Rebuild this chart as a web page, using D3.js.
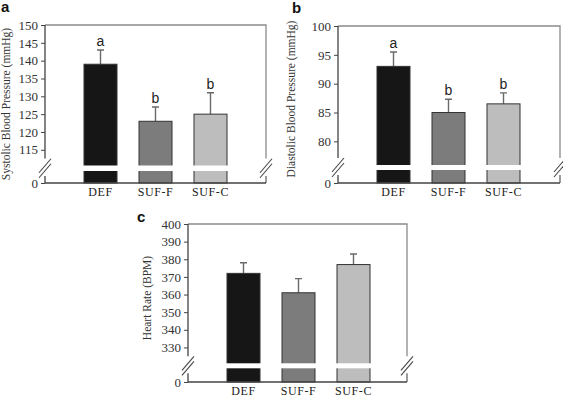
<!DOCTYPE html>
<html>
<head>
<meta charset="utf-8">
<script src="https://cdn.jsdelivr.net/npm/d3@7"></script>
<style>
  body { margin: 0; background: #fff; }
  svg { display: block; }
</style>
</head>
<body>
<div id="chart"></div>
<script>
// data
var categories = ["DEF", "SUF-F", "SUF-C"];

var sbpMeans = [139, 123, 125];
var sbpErrors = [4, 4, 6];
var sbpLetters = ["a", "b", "b"];
var sbpTicks = [0, 115, 120, 125, 130, 135, 140, 145, 150];

var dbpMeans = [93, 85, 86.5];
var dbpErrors = [2.5, 2.3, 1.9];
var dbpLetters = ["a", "b", "b"];
var dbpTicks = [0, 80, 85, 90, 95, 100];

var hrMeans = [372, 361, 377];
var hrErrors = [6, 8, 6];
var hrLetters = [null, null, null];
var hrTicks = [0, 330, 340, 350, 360, 370, 380, 390, 400];

var barColors = ["#161616", "#7c7c7c", "#bdbdbd"];

var svg = d3.select("#chart")
    .append("svg")
    .attr("width", 563)
    .attr("height", 397);

// one panel of the broken-axis bar chart
function drawPanel(opt) {
    var g = svg.append("g");
    var left = opt.left, right = opt.right, top = opt.top, bottom = opt.bottom;

    // piecewise scale: 0 sits below the break, the rest above it
    var y = d3.scaleLinear()
        .domain([0, opt.breakLow, opt.breakHigh, opt.max])
        .range([bottom, opt.gapBottom, opt.gapTop, top]);

    var x = d3.scalePoint()
        .domain(categories)
        .range([left + 55.5, left + 165.5]);
    var barW = 33;

    var rows = categories.map(function (c, i) {
        return { cat: c, mean: opt.means[i], err: opt.errors[i], letter: opt.letters[i], color: barColors[i] };
    });

    // frame (top and right)
    g.append("path")
        .attr("d", "M" + left + "," + top + "H" + right + "V" + (opt.gapTop - 7))
        .attr("fill", "none").attr("stroke", "#8a8a8a").attr("stroke-width", 1.3);
    g.append("path")
        .attr("d", "M" + right + "," + (opt.gapBottom + 5) + "V" + bottom)
        .attr("fill", "none").attr("stroke", "#666").attr("stroke-width", 1.3);

    // error bars (upper only)
    g.selectAll(".err")
        .data(rows)
        .enter()
        .append("path")
        .attr("d", function (d) {
            var cx = x(d.cat);
            return "M" + cx + "," + y(d.mean) + "V" + y(d.mean + d.err) +
                "M" + (cx - 3.5) + "," + y(d.mean + d.err) + "H" + (cx + 3.5);
        })
        .attr("stroke", "#6a6a6a")
        .attr("stroke-width", 1.4)
        .attr("fill", "none");

    // bars
    g.selectAll(".bar")
        .data(rows)
        .enter()
        .append("rect")
        .attr("x", function (d) { return x(d.cat) - barW / 2; })
        .attr("y", function (d) { return y(d.mean); })
        .attr("width", barW)
        .attr("height", function (d) { return y(0) - y(d.mean); })
        .attr("fill", function (d) { return d.color; })
        .attr("stroke", "#333")
        .attr("stroke-width", 1);

    // white stripe where the axis is broken
    g.selectAll(".gap")
        .data(rows)
        .enter()
        .append("rect")
        .attr("x", function (d) { return x(d.cat) - barW / 2 - 1; })
        .attr("y", opt.gapTop)
        .attr("width", barW + 2)
        .attr("height", opt.gapBottom - opt.gapTop)
        .attr("fill", "#fff");

    // significance letters
    g.selectAll(".sig")
        .data(rows.filter(function (d) { return d.letter; }))
        .enter()
        .append("text")
        .attr("x", function (d) { return x(d.cat); })
        .attr("y", function (d) { return y(d.mean + d.err) - 4; })
        .attr("text-anchor", "middle")
        .attr("font-family", "Liberation Sans, Arial, sans-serif")
        .attr("font-size", 14)
        .attr("fill", "#222")
        .text(function (d) { return d.letter; });

    // y axis with the break
    var yAxis = g.append("g")
        .attr("transform", "translate(" + left + ",0)")
        .call(d3.axisLeft(y).tickValues(opt.ticks).tickSize(4).tickPadding(3));
    yAxis.select(".domain").remove();
    yAxis.selectAll("line").attr("stroke", "#444");
    yAxis.selectAll("text")
        .attr("font-family", "Liberation Serif, Times New Roman, serif")
        .attr("font-size", 13)
        .attr("fill", "#333");
    g.append("path")
        .attr("d", "M" + left + "," + top + "V" + (opt.gapTop - 7) +
            "M" + left + "," + (opt.gapBottom + 5) + "V" + bottom + "H" + right)
        .attr("fill", "none").attr("stroke", "#444").attr("stroke-width", 1.3);

    // break marks on both sides
    [left, right].forEach(function (bx) {
        [-2.5, 2.5].forEach(function (off) {
            g.append("line")
                .attr("x1", bx - 6).attr("y1", (opt.gapTop + opt.gapBottom) / 2 + 7 + off)
                .attr("x2", bx + 6).attr("y2", (opt.gapTop + opt.gapBottom) / 2 - 7 + off)
                .attr("stroke", "#444").attr("stroke-width", 1.1);
        });
    });

    // x labels
    g.selectAll(".xlab")
        .data(categories)
        .enter()
        .append("text")
        .attr("x", function (d) { return x(d); })
        .attr("y", bottom + 13)
        .attr("text-anchor", "middle")
        .attr("font-family", "Liberation Serif, Times New Roman, serif")
        .attr("font-size", 12)
        .attr("letter-spacing", 0.6)
        .attr("fill", "#222")
        .text(function (d) { return d; });

    // y title
    g.append("text")
        .attr("transform", "translate(" + opt.titleX + "," + opt.titleY + ")rotate(-90)")
        .attr("text-anchor", "middle")
        .attr("font-family", "Liberation Serif, Times New Roman, serif")
        .attr("font-size", 11.5)
        .attr("fill", "#333")
        .text(opt.title);

    // panel letter
    g.append("text")
        .attr("x", opt.labelX)
        .attr("y", opt.labelY)
        .attr("font-family", "Liberation Sans, Arial, sans-serif")
        .attr("font-weight", "bold")
        .attr("font-size", 15)
        .attr("fill", "#111")
        .text(opt.label);
}

drawPanel({
    left: 45, right: 266, top: 25, bottom: 183,
    gapTop: 165.5, gapBottom: 171, breakHigh: 110.6, breakLow: 3, max: 150,
    means: sbpMeans, errors: sbpErrors, letters: sbpLetters, ticks: sbpTicks,
    title: "Systolic Blood Pressure (mmHg)", titleX: 10, titleY: 104,
    label: "a", labelX: 1, labelY: 12
});

drawPanel({
    left: 338, right: 560, top: 26, bottom: 183,
    gapTop: 165, gapBottom: 170, breakHigh: 75.9, breakLow: 3, max: 100,
    means: dbpMeans, errors: dbpErrors, letters: dbpLetters, ticks: dbpTicks,
    title: "Diastolic Blood Pressure (mmHg)", titleX: 295, titleY: 99,
    label: "b", labelX: 292, labelY: 13
});

drawPanel({
    left: 188, right: 407, top: 224, bottom: 382,
    gapTop: 363.3, gapBottom: 368.3, breakHigh: 321, breakLow: 10, max: 400,
    means: hrMeans, errors: hrErrors, letters: hrLetters, ticks: hrTicks,
    title: "Heart Rate (BPM)", titleX: 151, titleY: 298,
    label: "c", labelX: 137, labelY: 222
});
</script>
</body>
</html>
